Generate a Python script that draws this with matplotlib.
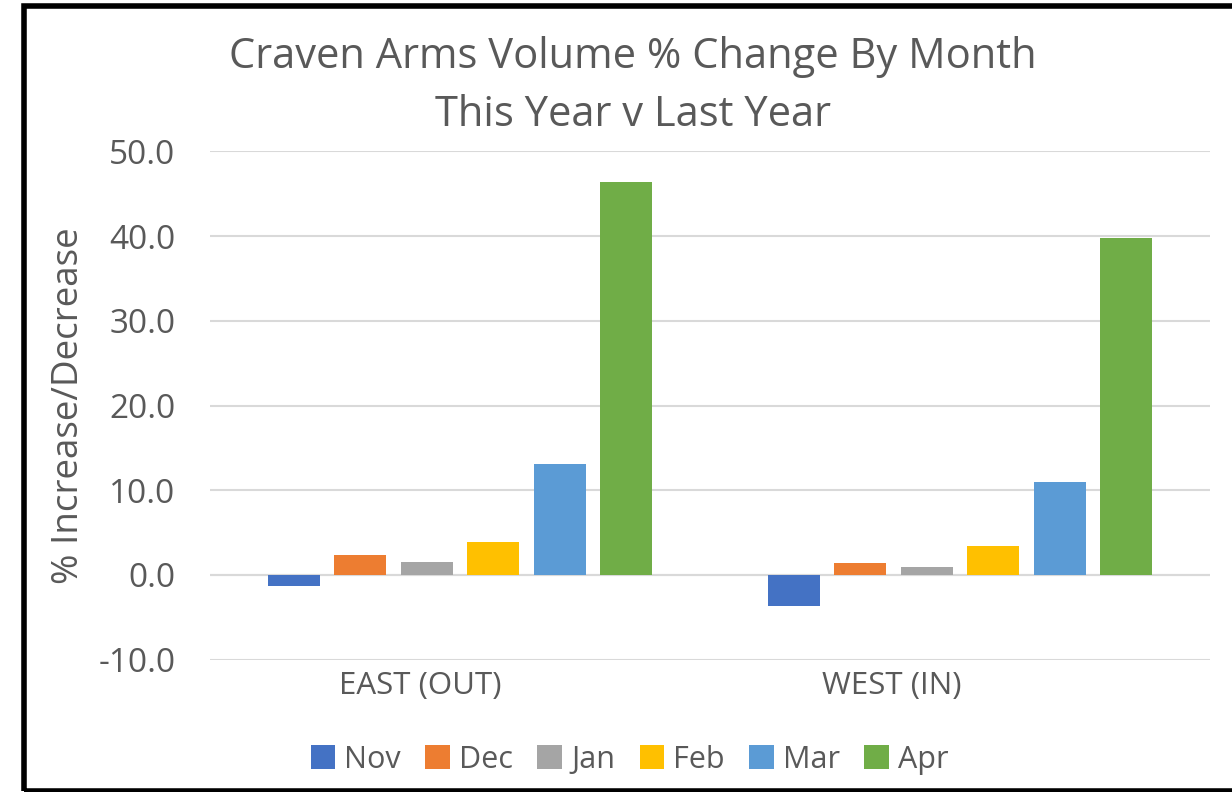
import numpy as np
import matplotlib
matplotlib.use("Agg")
import matplotlib.pyplot as plt
from matplotlib.patches import Rectangle

plt.rcParams['font.family'] = ['Open Sans', 'DejaVu Sans']

groups = ['EAST (OUT)', 'WEST (IN)']
months = ['Nov', 'Dec', 'Jan', 'Feb', 'Mar', 'Apr']
east = [-1.3, 2.4, 1.5, 3.9, 13.1, 46.4]
west = [-3.7, 1.4, 1.0, 3.4, 11.0, 39.8]
colors = ['#4472C4', '#ED7D31', '#A5A5A5', '#FFC000', '#5B9BD5', '#70AD47']
yticks = [-10, 0, 10, 20, 30, 40, 50]

grey = '#595959'
fig = plt.figure(figsize=(12.32, 7.92), dpi=100)
ax = fig.add_axes([0.1705, 0.167, 0.8117, 0.642])

x = np.arange(len(groups))
pitch = 0.133
w = 0.104
for i, m in enumerate(months):
    vals = [east[i], west[i]]
    ax.bar(x + (i - 2.5) * pitch, vals, width=w, color=colors[i], label=m, zorder=3)

ax.set_xlim(-0.5, 1.5)
ax.set_ylim(-10, 50)
ax.set_yticks(yticks)
ax.set_yticklabels([f'{v:.1f}' for v in yticks], fontsize=24, color=grey)
# category labels sit a bit left of the bar groups in the original
ax.set_xticks(x + np.array([-0.08, -0.136]))
ax.set_xticklabels(groups, fontsize=22.5, color=grey)
ax.tick_params(axis='y', length=0, pad=25)
ax.tick_params(axis='x', length=0, pad=8)
ax.grid(axis='y', color='#D9D9D9', linewidth=1.5, zorder=0)
ax.axhline(0, color='#D9D9D9', linewidth=1.5, zorder=2)
for s in ax.spines.values():
    s.set_visible(False)

ax.set_ylabel('% Increase/Decrease', fontsize=26.5, color=grey, labelpad=8)

fig.text(0.514, 0.928, 'Craven Arms Volume % Change By Month', ha='center', va='center',
         fontsize=30, color=grey)
fig.text(0.514, 0.855, 'This Year v Last Year', ha='center', va='center',
         fontsize=30, color=grey)

leg = fig.legend(loc='center', bbox_to_anchor=(0.511, 0.041), ncol=6, frameon=False,
                 fontsize=22, handlelength=0.8, handleheight=0.8, handletextpad=0.3,
                 columnspacing=0.8)
for t in leg.get_texts():
    t.set_color(grey)

# black frame around the chart
fig.patches.append(Rectangle((0.0195, 0.0015), 1.2, 0.991, transform=fig.transFigure,
                             fill=False, edgecolor='black', linewidth=4))

fig.savefig('out.png', dpi=100)
